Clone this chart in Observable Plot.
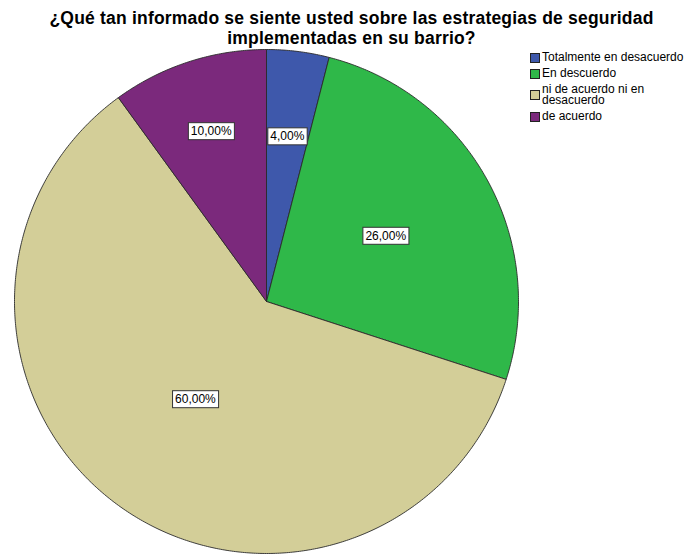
<!DOCTYPE html>
<html>
<head>
<meta charset="utf-8">
<script src="https://cdn.jsdelivr.net/npm/d3@7"></script>
<script src="https://cdn.jsdelivr.net/npm/@observablehq/plot@0.6"></script>
<style>
  body { margin: 0; background: #fff; font-family: "Liberation Sans", Arial, sans-serif; }
  #wrap { position: relative; width: 689px; height: 554px; overflow: hidden; }
  #title { height: 46px; box-sizing: border-box; padding-top: 8px; padding-left: 14px; text-align: center; font-weight: bold; font-size: 17.5px; line-height: 20.3px; letter-spacing: 0.2px; color: #000; }
  #title div { white-space: nowrap; }
  #legend { position: absolute; left: 530px; top: 52px; font-size: 12px; line-height: 11px; color: #000; }
  .row { display: flex; align-items: center; margin-bottom: 5px; }
  .sw { width: 10px; height: 10px; border: 1px solid #222; margin-right: 2px; flex: none; box-sizing: border-box; }
  .lab { max-width: 146px; }
</style>
</head>
<body>
<div id="wrap">
  <div id="title"></div>
  <div id="legend"></div>
</div>
<script>
const titleLines = ["¿Qué tan informado se siente usted sobre las estrategias de seguridad", "implementadas en su barrio?"];
const categories = ["Totalmente en desacuerdo", "En descuerdo", "ni de acuerdo ni en desacuerdo", "de acuerdo"];
const percents = [4, 26, 60, 10];
const labels = ["4,00%", "26,00%", "60,00%", "10,00%"];
const colors = ["#3e58ab", "#2fb849", "#d3ce98", "#7b297c"];
const labelRadius = [0.66, 0.54, 0.48, 0.71];

titleLines.forEach(t => d3.select("#title").append("div").text(t));

// legend
const legend = d3.select("#legend");
categories.forEach((c, i) => {
  const row = legend.append("div").attr("class", "row");
  row.append("div").attr("class", "sw").style("background", colors[i]);
  row.append("div").attr("class", "lab").text(c);
});

// slices as polygons in unit-circle coordinates
const total = d3.sum(percents);
const pts = [];
const labs = [];
let acc = 0;
percents.forEach((p, i) => {
  const a0 = acc / total * 2 * Math.PI;
  const a1 = (acc + p) / total * 2 * Math.PI;
  acc += p;
  pts.push({cat: categories[i], x: 0, y: 0});
  const n = Math.max(2, Math.ceil((a1 - a0) / (Math.PI / 360)));
  for (let k = 0; k <= n; k++) {
    const a = a0 + (a1 - a0) * k / n;
    pts.push({cat: categories[i], x: Math.sin(a), y: Math.cos(a)});
  }
  pts.push({cat: categories[i], x: 0, y: 0});
  const am = (a0 + a1) / 2;
  labs.push({label: labels[i], x: labelRadius[i] * Math.sin(am), y: labelRadius[i] * Math.cos(am)});
});

const chart = Plot.plot({
  width: 689,
  height: 508,
  margin: 0,
  x: {domain: [-1, 1], range: [14, 518], axis: null},
  y: {domain: [-1, 1], range: [507, 3], axis: null},
  color: {domain: categories, range: colors},
  style: {background: "transparent"},
  marks: [
    Plot.line(pts, {x: "x", y: "y", z: "cat", fill: "cat", stroke: "#2a2a2a", strokeWidth: 0.9, curve: "linear", strokeLinejoin: "round"}),
    Plot.text(labs, {x: "x", y: "y", text: "label", fontSize: 12, fill: "#000", fontFamily: "Liberation Sans, Arial, sans-serif", className: "pielabel"})
  ]
});
chart.style.display = "block";
document.getElementById("wrap").insertBefore(chart, document.getElementById("legend"));

// white boxes behind labels
d3.select(chart).selectAll(".pielabel text").each(function() {
  const b = this.getBBox();
  d3.select(this.parentNode).insert("rect", () => this)
    .attr("transform", this.getAttribute("transform"))
    .attr("x", b.x - 2.5).attr("y", b.y - 1.5)
    .attr("width", b.width + 5).attr("height", b.height + 3)
    .attr("fill", "#fff").attr("stroke", "#333").attr("stroke-width", 1);
});
</script>
</body>
</html>
